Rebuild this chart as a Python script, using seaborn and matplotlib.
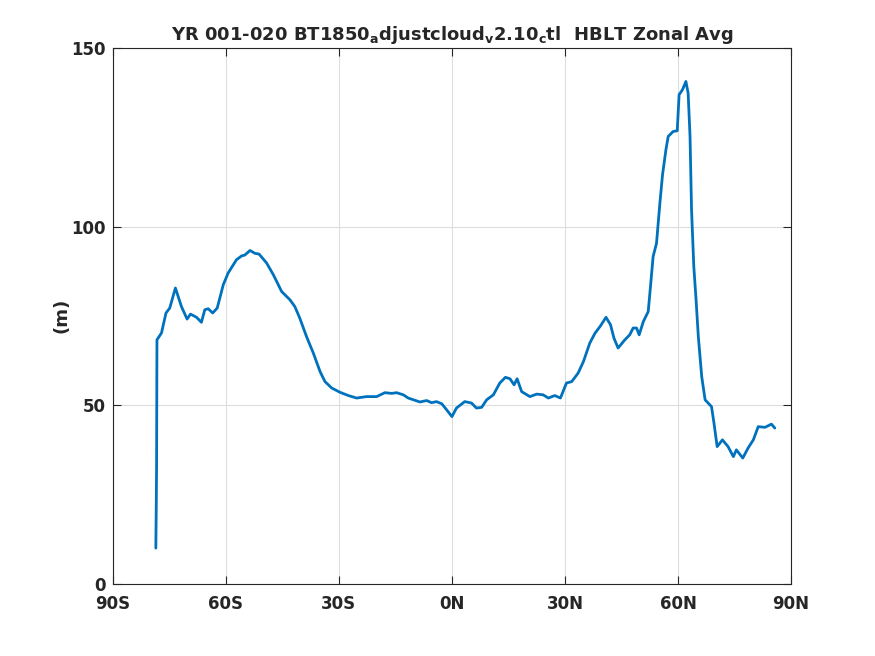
import numpy as np
import pandas as pd
import seaborn as sns
import matplotlib
matplotlib.use("Agg")
import matplotlib.pyplot as plt

# Zonal average HBLT (latitude, metres)
lat = [-78.6, -78.5, -78.4, -78.3, -77.1, -75.9, -74.9, -73.4, -71.8, -70.3, -69.4,
       -67.8, -66.5, -65.6, -64.7, -63.5, -62.3, -60.7, -59.4, -57.2, -55.8, -55.0,
       -53.6, -52.3, -51.2, -49.2, -47.4, -45.2, -43.0, -41.7, -40.4, -38.6, -36.8,
       -35.0, -33.7, -31.9, -29.7, -27.5, -25.3, -22.7, -20.0, -17.8, -16.0, -14.7,
       -12.9, -11.6, -8.5, -6.7, -5.4, -4.1, -2.7, -1.4, 0.0, 1.2, 3.4, 5.2, 6.5,
       7.9, 9.2, 11.0, 12.7, 14.2, 15.4, 16.5, 17.3, 18.5, 20.7, 22.5, 24.2, 25.6,
       27.3, 28.8, 30.4, 31.8, 33.5, 34.9, 36.6, 38.0, 39.3, 40.9, 42.1, 43.0, 44.1,
       45.9, 47.2, 48.1, 49.0, 49.7, 50.8, 52.1, 52.7, 53.4, 54.3, 55.2, 55.9, 56.8,
       57.4, 58.7, 59.8, 60.3, 61.2, 62.1, 62.7, 63.2, 63.6, 64.2, 64.8, 65.4, 66.3,
       67.2, 68.9, 69.5, 70.4, 71.8, 73.3, 74.7, 75.5, 77.2, 78.6, 80.0, 81.3, 83.1,
       84.8, 85.7]
hblt = [10.0, 20.0, 32.7, 68.3, 70.2, 75.8, 77.2, 82.8, 77.6, 74.1, 75.5,
        74.6, 73.2, 76.7, 77.0, 75.8, 77.2, 83.7, 87.0, 90.7, 91.8, 92.0,
        93.3, 92.5, 92.3, 89.8, 86.5, 81.8, 79.5, 77.6, 74.4, 69.2, 64.6,
        59.4, 56.6, 54.8, 53.6, 52.7, 52.0, 52.4, 52.4, 53.5, 53.3, 53.5,
        52.9, 52.0, 50.9, 51.3, 50.7, 51.0, 50.4, 48.7, 46.8, 49.2, 51.0, 50.6, 49.2,
        49.4, 51.5, 52.9, 56.2, 57.8, 57.4, 55.7, 57.4, 53.8, 52.4, 53.1, 52.9, 52.0,
        52.7, 52.0, 56.2, 56.6, 59.0, 62.2, 67.4, 70.2, 72.0, 74.6, 72.5, 68.8, 66.0,
        68.3, 69.7, 71.6, 71.6, 69.7, 73.4, 76.2, 83.2, 91.6, 95.3, 106.6, 114.5, 121.5,
        125.2, 126.6, 126.8, 136.9, 138.3, 140.6, 137.3, 125.2, 104.7, 88.8, 79.5, 69.2, 58.0,
        51.5, 49.6, 45.4, 38.4, 40.3, 38.4, 35.6, 37.5, 35.2, 38.0, 40.3, 44.0, 43.8,
        44.7, 43.6]

xticks = [-90, -60, -30, 0, 30, 60, 90]
xticklabels = ["90S", "60S", "30S", "0N", "30N", "60N", "90N"]
yticks = [0, 50, 100, 150]

df = pd.DataFrame({"lat": lat, "hblt": hblt})

sns.set_style("white")
plt.rcParams["font.family"] = ["DejaVu Sans"]

fig = plt.figure(figsize=(8.75, 6.56), dpi=100)
ax = fig.add_axes([0.129, 0.11, 0.775, 0.817])

sns.lineplot(data=df, x="lat", y="hblt", ax=ax, color="#0072BD", linewidth=2, sort=False)

ax.set_xlim(-90, 90)
ax.set_ylim(0, 150)
ax.set_xticks(xticks)
ax.set_xticklabels(xticklabels, fontsize=12, fontweight="bold")
ax.set_yticks(yticks)
ax.set_yticklabels([str(v) for v in yticks], fontsize=12, fontweight="bold")
ax.set_xlabel("")
ax.set_ylabel("(m)", fontsize=13, fontweight="bold", labelpad=1)
ax.grid(True, color="#dddddd", linewidth=0.8)
ax.tick_params(direction="in", length=6, width=0.8, color="#262626",
               top=True, right=True, bottom=True, left=True)
ax.tick_params(axis="x", pad=8)
ax.tick_params(axis="y", pad=5)
for s in ax.spines.values():
    s.set_color("#262626")
    s.set_linewidth(0.8)

ax.set_title(r"YR 001-020 BT1850$_\mathbf{a}$djustcloud$_\mathbf{v}$2.10$_\mathbf{c}$tl  HBLT Zonal Avg",
             fontsize=13, fontweight="bold", pad=6)

fig.savefig("out.png", dpi=100)
